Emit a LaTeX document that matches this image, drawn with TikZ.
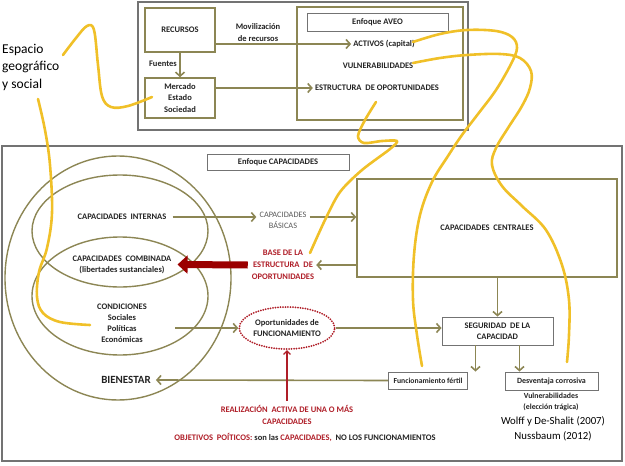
\documentclass[tikz,border=0pt]{standalone}
\usepackage{fontspec}
\setmainfont{Carlito}
\usetikzlibrary{arrows.meta,shapes.geometric}
\definecolor{olivec}{RGB}{140,134,84}
\definecolor{grayc}{RGB}{115,115,115}
\definecolor{yell}{RGB}{240,192,40}
\definecolor{redt}{RGB}{175,30,40}
\definecolor{redarrow}{RGB}{155,0,0}
\definecolor{txt}{RGB}{35,35,35}
\newcommand\myfsb{\fontsize{8.5}{11.2}\selectfont\bfseries}
\tikzset{
  obox/.style={draw=olivec, line width=1.6pt, inner sep=0pt},
  gbox/.style={draw=grayc, line width=1.1pt, inner sep=0pt},
  tbox/.style={draw=grayc, line width=0.8pt, inner sep=0pt, font=\myfsb, text=txt},
  arr/.style={draw=olivec, line width=1.6pt, -{Straight Barb[length=4pt,width=9pt]}},
  lbl/.style={font=\myfsb, align=center, inner sep=0pt, text=txt},
  ell/.style={draw=olivec, line width=1.4pt},
  yl/.style={draw=yell, line width=2.6pt, line cap=round, line join=round},
}
\begin{document}
\begin{tikzpicture}[x=1pt,y=-1pt]
\useasboundingbox (0,0) rectangle (625,466);
% ---------------- top part ----------------
\node[gbox, minimum width=330pt, minimum height=128pt] (top) at (303,66) {};
\node[obox, minimum width=70pt, minimum height=44pt, lbl] (rec) at (180,30) {RECURSOS};
\node[obox, minimum width=70pt, minimum height=40pt, lbl] (merc) at (180,98) {Mercado\\Estado\\Sociedad};
\node[obox, minimum width=166pt, minimum height=113pt] (aveo) at (380,63.5) {};
\node[tbox, minimum width=141pt, minimum height=18pt] (eaveo) at (377.5,22) {Enfoque AVEO};
\node[lbl] (movil) at (258,32.5) {Movilización\\de recursos};
\node[lbl] (act) at (384,44) {ACTIVOS (capital)};
\node[lbl] (vul) at (378,66) {VULNERABILIDADES};
\node[lbl] (estr) at (377,88) {ESTRUCTURA\ \ DE OPORTUNIDADES};
\node[lbl, anchor=east] (fuen) at (177,64) {Fuentes};
\draw[arr] (rec.east|-act.west) -- ([xshift=-2pt]act.west);
\draw[arr] (merc.east|-estr.west) -- ([xshift=-2pt]estr.west);
\draw[arr] (rec.south) -- (merc.north);
% ---------------- bottom part ----------------
\node[gbox, minimum width=620pt, minimum height=315pt] (bot) at (312,303.5) {};
\node[tbox, minimum width=142pt, minimum height=16pt] (ecap) at (278,162) {Enfoque CAPACIDADES};
% ellipses (Venn: internas above, condiciones below, lens = combinada)
\node[ell, ellipse, minimum width=226pt, minimum height=244pt] (e1) at (118,278) {};
\node[ell, ellipse, minimum width=176pt, minimum height=112pt] (e2) at (120,231) {};
\node[ell, ellipse, minimum width=176pt, minimum height=118pt] (e4) at (120,296) {};
\node[lbl] (int) at (122,217) {CAPACIDADES\ \ INTERNAS};
\node[lbl] (comb) at (122,264.5) {CAPACIDADES\ \ COMBINADA\\(libertades sustanciales)};
\node[lbl, font=\fontsize{8.5}{11}\selectfont\bfseries] (cond) at (122,323.5) {CONDICIONES\\Sociales\\Políticas\\Económicas};
\node[lbl, font=\fontsize{11}{12}\selectfont\bfseries] (bien) at (126,380) {BIENESTAR};
% centre column
\node[lbl, font=\fontsize{8.3}{11}\selectfont, text=black!65] (bas) at (283,220.5) {CAPACIDADES\\BÁSICAS};
\node[lbl, text=redt, font=\fontsize{8.5}{11.8}\selectfont\bfseries] (base) at (283,265) {BASE DE LA\\ESTRUCTURA\ \ DE\\OPORTUNIDADES};
\node[draw=redt, ellipse, line width=2pt, dash pattern=on 0pt off 2.5pt, line cap=round,
      minimum width=86pt, minimum height=42pt, inner sep=0pt, lbl] (opp) at (287,328) {Oportunidades de\\FUNCIONAMIENTO};
\node[lbl, text=redt] (real) at (287,415) {REALIZACIÓN\ \ ACTIVA DE UNA O MÁS\\CAPACIDADES};
\node[lbl] (obj) at (305,438) {\textcolor{redt}{OBJETIVOS\ \ POÍTICOS:} son las \textcolor{redt}{CAPACIDADES,}\ \ NO LOS FUNCIONAMIENTOS};
% right column
\node[obox, line width=1.4pt, minimum width=260pt, minimum height=98pt, lbl] (cen) at (487,228) {CAPACIDADES\ \ CENTRALES};
\node[gbox, line width=0.9pt, minimum width=111pt, minimum height=28pt, lbl] (seg) at (497.5,331) {SEGURIDAD\ \ DE LA\\CAPACIDAD};
\node[gbox, line width=0.9pt, minimum width=79pt, minimum height=17pt, lbl, font=\fontsize{7.7}{10}\selectfont\bfseries] (fun) at (428,380.5) {Funcionamiento fértil};
\node[gbox, line width=0.9pt, minimum width=93pt, minimum height=18pt, lbl, font=\fontsize{8}{10}\selectfont\bfseries] (des) at (551.5,381) {Desventaja corrosiva};
\node[lbl, font=\fontsize{7.8}{11}\selectfont\bfseries] (vul2) at (551,401.5) {Vulnerabilidades\\(elección trágica)};
\node[lbl, font=\fontsize{10.8}{15}\selectfont\mdseries, text=black] (ref) at (553,429) {Wolff y De-Shalit (2007)\\Nussbaum (2012)};
\node[anchor=west, align=left, inner sep=0pt, font=\fontsize{13.5}{17.5}\selectfont, text=black] (esp) at (2,67) {Espacio\\geográfico\\y social};
% connectors
\draw[arr] ([xshift=6pt]int.east) -- ([xshift=-3pt]bas.west|-int.east);
\draw[arr] ([xshift=3pt]bas.east|-int.east) -- (cen.west|-int.east);
\draw[arr] (cen.west|-base.east) -- ([xshift=2pt]base.east);
\draw[draw=redarrow, line width=7pt, -{Triangle[length=10pt,width=18pt]}] ([xshift=-4pt]base.west) -- ([xshift=6pt]comb.east);
\coordinate (c1) at (175,328);
\draw[arr] (c1) -- (opp.west);
\draw[arr] (opp.east) -- (seg.west|-opp.east);
\draw[arr] (seg.north|-cen.south) -- (seg.north);
\draw[arr] ([xshift=-22pt]seg.south) -- ([xshift=-22pt]seg.south|-fun.north);
\draw[arr] ([xshift=22pt]seg.south) -- ([xshift=22pt]seg.south|-des.north);
\draw[arr] (fun.west) -- ([xshift=5pt]bien.east);
\draw[draw=redt, line width=1.3pt, -{Straight Barb[length=3.5pt,width=7pt]}] ([yshift=5pt]real.north) -- (opp.south);
% yellow curves
\draw[yl] plot[smooth, tension=0.6] coordinates {(63,55) (76,38) (87,26) (94,30) (98,65) (102,96) (111,107) (128,106) (152,97)};
\draw[yl] plot[smooth, tension=0.6] coordinates {(38,99) (45,130) (50,165) (52,213) (47,248) (39,272) (37,297) (43,313) (60,322) (90,325)};
\draw[yl] plot[smooth, tension=0.5] coordinates {(376,102) (365,120) (358,136) (364,143) (382,141) (397,141) (390,149) (362,170) (340,192) (325,220) (310,253)};
\draw[yl] plot[smooth, tension=0.6] coordinates {(413,42) (440,34) (467,30) (496,31) (512,37) (517,48) (511,64) (496,90) (478,114) (462,135) (448,156) (432,182) (420,215) (414,255) (413,300) (417,335) (422,366)};
\draw[yl] plot[smooth, tension=0.6] coordinates {(413,63) (440,58) (467,55) (500,54) (520,58) (531,71) (530,88) (522,106) (508,128) (496,148) (492,165) (502,186) (522,206) (546,230) (562,265) (569,300) (569,335) (567,362)};
\end{tikzpicture}
\end{document}
